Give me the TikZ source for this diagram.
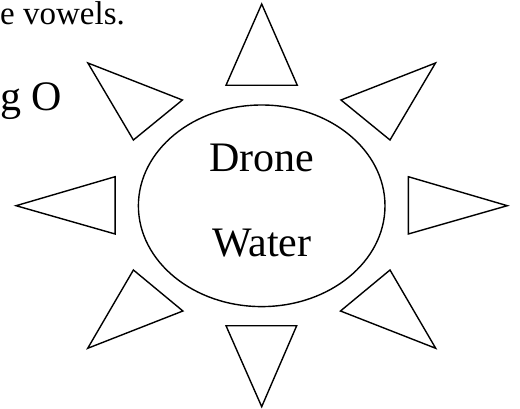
\documentclass[tikz,border=0pt]{standalone}
\usepackage{fontspec}
\setmainfont{Liberation Serif}
\usepackage{tikz}
\usetikzlibrary{shapes.geometric, positioning, calc}
\tikzset{
  core/.style={ellipse, draw=black, line width=1.4pt, inner sep=0pt,
    minimum width=246.6pt, minimum height=201.6pt},
  word/.style={anchor=base, inner sep=0pt, font=\fontsize{42}{44}\selectfont},
  cuttext/.style={anchor=base west, inner sep=0pt},
  ray/.style={draw=black, line width=1.4pt, line join=miter}
}
\begin{document}
\begin{tikzpicture}[x=1pt, y=-1pt]
  \useasboundingbox (0,0) rectangle (520,409);
  \clip (0,0) rectangle (520,409);

  % text on the left
  \node[cuttext, font=\fontsize{33}{35}\selectfont] (vowels) at (0,25) {e vowels.};
  \node[cuttext, font=\fontsize{42}{44}\selectfont] (letter) at (0,111) {g O};

  % sun body
  \node[core] (sun) at (261.7,205.8) {};
  \node[word] (drone) at (261.7,171.7) {Drone};
  \node[word] (water) at (261.7,256.7) {Water};

  % rays
  \foreach \a/\b/\c in {
      {261.7,4}/{226,85.3}/{297.3,85.3},
      {341,100}/{435.5,63}/{390,140},
      {408.3,176.7}/{507.3,205.7}/{408.3,234},
      {340.5,311}/{390,270}/{435.7,348.3},
      {226,325.7}/{296.7,325.7}/{261.7,406.7},
      {182.9,311}/{133.4,270}/{87.7,348.3},
      {115.1,176.7}/{16.1,205.7}/{115.1,234},
      {182.4,100}/{87.9,63}/{133.4,140}}
    \draw[ray] (\a) -- (\b) -- (\c) -- cycle;
\end{tikzpicture}
\end{document}
